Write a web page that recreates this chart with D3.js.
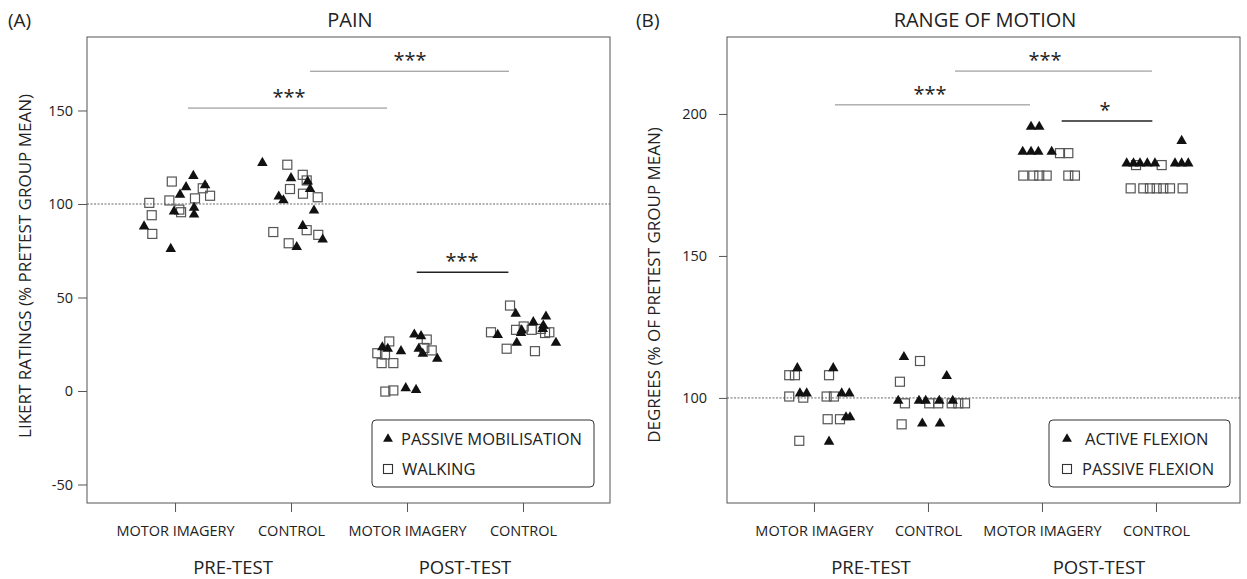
<!DOCTYPE html>
<html><head><meta charset="utf-8">
<script src="https://cdn.jsdelivr.net/npm/d3@7/dist/d3.min.js"></script>
<style>body{margin:0;background:#fff}svg{display:block;font-family:"Open Sans",sans-serif}</style>
</head><body>
<svg id="c" width="1247" height="579"></svg>
<script>
// ---------- DATA ----------
const categories = ["MOTOR IMAGERY","CONTROL","MOTOR IMAGERY","CONTROL"];
const phases = ["PRE-TEST","POST-TEST"];
const painTicks = [150,100,50,0,-50];
const romTicks = [200,150,100];

// Panel A: [x position (category coordinate incl. jitter), value]
const painMobilisation = [
 [1.158,115],[1.095,109],[1.259,110],[1.043,105],[1.164,98],[0.991,96],[1.164,94.4],[0.733,88],[0.963,76],
 [1.753,122],[2.0,113.8],[2.144,112],[2.164,108],[1.894,104],[1.934,102],[2.198,96.5],[2.101,88.3],[2.273,81],[2.049,77],
 [3.063,30.2],[3.121,29.3],[2.787,23.4],[2.834,22.6],[2.948,21.3],[3.101,22.6],[3.136,19.9],[3.261,17.2],[2.989,1.5],[3.078,0.6],
 [3.937,41.3],[4.198,39.8],[4.089,36.8],[4.175,35],[3.989,32.4],[3.983,31],[3.782,30],[4.170,33.2],[3.946,25.8],[4.284,25.8]
];
const painWalking = [
 [0.972,112],[1.239,108.4],[1.302,104.4],[1.172,103],[0.951,101.9],[0.778,100.6],[1.037,97],[1.052,95.6],[0.799,94],[0.804,84],
 [1.968,121],[2.101,115.6],[2.135,112.6],[1.991,108],[2.103,105.5],[2.230,103.6],[1.847,85],[2.135,86],[2.235,83.5],[1.980,79],
 [2.847,26.5],[3.170,27.5],[2.744,20.2],[2.810,19.5],[3.213,21.7],[2.781,14.9],[2.882,14.9],[3.149,23],[2.813,-0.3],[2.882,0.3],
 [3.888,45.7],[3.724,31.4],[3.940,32.7],[4.006,34.5],[4.075,32.7],[4.155,33.2],[4.190,31],[4.227,31.4],[3.859,22.6],[4.103,21.3]
];
// Panel B
const romActive = [
 [0.854,110.5],[1.169,110.5],[0.877,101.6],[0.936,101.6],[1.243,101.6],[1.310,101.6],[1.281,93.2],[1.316,93.2],[1.132,84.6],
 [1.789,114.4],[2.164,107.7],[1.739,99],[1.921,99],[1.980,99],[2.099,99],[2.217,99],[1.950,91],[2.105,91],
 [2.904,195.5],[2.976,195.5],[2.831,186.7],[2.904,186.7],[2.968,186.7],[3.085,186.7],
 [4.225,190.5],[3.743,182.6],[3.803,182.6],[3.860,182.6],[3.924,182.6],[3.991,182.6],[4.167,182.6],[4.225,182.6],[4.283,182.6]
];
const romPassive = [
 [0.783,108],[0.833,108],[1.132,108],[0.783,100.5],[0.906,100.1],[1.111,100.5],[1.175,100.5],[1.120,92.5],[1.228,92.5],[0.871,84.9],
 [1.930,113],[1.754,105.7],[1.798,98.1],[2.011,98.1],[2.090,98.1],[2.208,98.1],[2.266,98.1],[2.325,98.1],[1.769,90.7],
 [3.158,186.2],[3.231,186.2],[2.836,178.3],[2.924,178.3],[2.976,178.3],[3.041,178.3],[3.231,178.3],[3.289,178.3],
 [3.825,182],[4.050,182],[3.778,173.8],[3.889,173.8],[3.947,173.8],[4.006,173.8],[4.064,173.8],[4.123,173.8],[4.234,173.8]
];
// significance bars: [x1, x2, value, label, xLabel, heavy]
const painSig = [[2.164,3.879,171,"***",3.026,0],[1.112,2.828,151.3,"***",1.983,0],[3.084,3.874,63.5,"***",3.474,1]];
const romSig = [[2.237,3.965,215.1,"***",3.026,0],[1.184,2.895,203.2,"***",2.018,0],[3.173,3.968,197.5,"*",3.553,1]];

// ---------- DRAW ----------
const svg = d3.select("#c");
const tri = d3.symbol().type(d3.symbolTriangle);
const INK = "#222";

function panel(o){
  const g = svg.append("g");
  const x = d3.scaleLinear().domain(o.xd).range([o.l,o.r]);
  const y = d3.scaleLinear().domain(o.yd).range([o.b,o.t]);
  g.append("rect").attr("x",o.l).attr("y",o.t).attr("width",o.r-o.l).attr("height",o.b-o.t)
   .attr("fill","none").attr("stroke","#555").attr("stroke-width",1);
  const ya = g.append("g").attr("transform",`translate(${o.l},0)`)
   .call(d3.axisLeft(y).tickValues(o.ticks).tickFormat(d=>String(d)).tickSize(o.tk[0]).tickPadding(o.tk[1]));
  ya.select(".domain").remove();
  ya.selectAll("line").attr("stroke","#555");
  ya.selectAll("text").attr("font-size",14.5).attr("fill",INK).attr("font-family","Open Sans");
  const xa = g.append("g").attr("transform",`translate(0,${o.b})`)
   .call(d3.axisBottom(x).tickValues([1,2,3,4]).tickFormat((d,i)=>categories[i]).tickSize(9).tickPadding(14));
  xa.select(".domain").remove();
  xa.selectAll("line").attr("stroke","#555");
  xa.selectAll("text").attr("font-size",14.5).attr("fill",INK).attr("font-family","Open Sans");
  phases.forEach((p,i)=>{
    g.append("text").attr("x",x(1.5+2*i)).attr("y",574).attr("text-anchor","middle")
     .attr("font-size",18.5).attr("fill",INK).text(p);
  });
  g.append("line").attr("x1",o.l).attr("x2",o.r).attr("y1",y(100)).attr("y2",y(100))
   .attr("stroke","#444").attr("stroke-width",0.8).attr("stroke-dasharray","2,1.5");
  g.selectAll("rect.sq").data(o.sq).join("rect").attr("class","sq")
   .attr("x",d=>x(d[0])-4.5).attr("y",d=>y(d[1])-4.5).attr("width",9).attr("height",9)
   .attr("fill","none").attr("stroke","#555").attr("stroke-width",1.2);
  g.selectAll("path.tr").data(o.tr).join("path").attr("class","tr")
   .attr("d",tri.size(48)()).attr("transform",d=>`translate(${x(d[0])},${y(d[1])})`).attr("fill","#111");
  o.sig.forEach(s=>{
    g.append("line").attr("x1",x(s[0])).attr("x2",x(s[1])).attr("y1",y(s[2])).attr("y2",y(s[2]))
     .attr("stroke",s[5]?"#222":"#888").attr("stroke-width",s[5]?1.6:1);
    g.append("text").attr("x",x(s[4])).attr("y",y(s[2])-4).attr("text-anchor","middle")
     .attr("font-size",20).attr("fill",INK).text(s[3]);
  });
  g.append("text").attr("x",o.tag[1]).attr("y",27).attr("font-size",19).attr("fill",INK).text(o.tag[0]);
  g.append("text").attr("x",o.title[1]).attr("y",27).attr("text-anchor","middle").attr("font-size",20).attr("fill",INK).text(o.title[0]);
  g.append("text").attr("transform",`translate(${o.ylab[1]},${o.ylab[2]}) rotate(-90)`).attr("text-anchor","middle")
   .attr("font-size",17).attr("fill",INK).text(o.ylab[0]);
  const L = o.leg;
  g.append("rect").attr("x",L.x).attr("y",L.y).attr("width",L.w).attr("height",L.h).attr("rx",4)
   .attr("fill","#fff").attr("stroke","#333").attr("stroke-width",1);
  g.append("path").attr("d",tri.size(42)()).attr("transform",`translate(${L.mx},${L.y+19})`).attr("fill","#111");
  g.append("rect").attr("x",L.mx-4.5).attr("y",L.y+49-4.5).attr("width",9).attr("height",9)
   .attr("fill","none").attr("stroke","#333").attr("stroke-width",1.1);
  g.append("text").attr("x",L.tx[0]).attr("y",L.y+25).attr("font-size",16.5).attr("fill",INK).text(L.labels[0]);
  g.append("text").attr("x",L.tx[1]).attr("y",L.y+55).attr("font-size",16.5).attr("fill",INK).text(L.labels[1]);
}

panel({l:87,r:610,t:37,b:503,xd:[0.241,4.75],yd:[-59.9,189.3],ticks:painTicks,tk:[9,5],
  tr:painMobilisation,sq:painWalking,sig:painSig,tag:["(A)",8],title:["PAIN",350],
  ylab:["LIKERT RATINGS (% PRETEST GROUP MEAN)",31,266],
  leg:{x:372,y:420,w:222,h:67,mx:388,tx:[401,402],labels:["PASSIVE MOBILISATION","WALKING"]}});
panel({l:727,r:1240,t:37,b:503,xd:[0.237,4.737],yd:[63,227.1],ticks:romTicks,tk:[8,12],
  tr:romActive,sq:romPassive,sig:romSig,tag:["(B)",636],title:["RANGE OF MOTION",985],
  ylab:["DEGREES (% OF PRETEST GROUP MEAN)",660,285],
  leg:{x:1049,y:420,w:181,h:67,mx:1067,tx:[1085,1082],labels:["ACTIVE FLEXION","PASSIVE FLEXION"]}});
</script>
</body></html>
